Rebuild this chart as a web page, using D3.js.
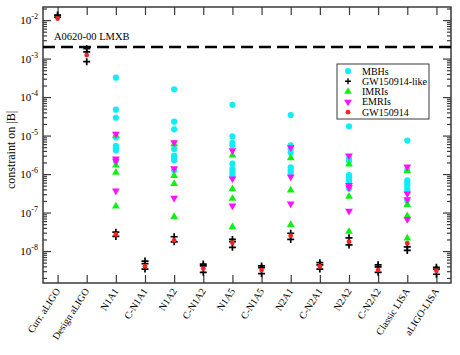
<!DOCTYPE html>
<html>
<head>
<meta charset="utf-8">
<script src="https://cdn.jsdelivr.net/npm/d3@7"></script>
<style>
  body { margin: 0; background: #fff; }
  svg { font-family: "Liberation Serif", "DejaVu Serif", serif; }
</style>
</head>
<body>
<svg width="460" height="355"></svg>
<script>
const categories = ['Curr. aLIGO', 'Design aLIGO', 'N1A1', 'C-N1A1', 'N1A2', 'C-N1A2', 'N1A5',
    'C-N1A5', 'N2A1', 'C-N2A1', 'N2A2', 'C-N2A2', 'Classic LISA', 'aLIGO-LISA'];

// constraint values per detector, per source class
const mbhs = {
    'N1A1': [3.2e-4, 4.7e-5, 2.9e-5, 8.9e-6, 5.4e-6, 4.7e-6, 4.1e-6, 2.2e-6],
    'N1A2': [1.6e-4, 2.3e-5, 1.45e-5, 4.5e-6, 3.0e-6, 2.6e-6, 2.3e-6, 1.26e-6],
    'N1A5': [6.3e-5, 9.5e-6, 6.5e-6, 5.6e-6, 1.86e-6, 1.36e-6, 1.15e-6, 9.8e-7, 8.5e-7],
    'N2A1': [3.4e-5, 5.6e-6, 4.4e-6, 3.6e-6, 1.5e-6, 1.26e-6, 1.1e-6],
    'N2A2': [1.74e-5, 2.6e-6, 2.2e-6, 9.4e-7, 8.1e-7, 6.9e-7, 5.9e-7, 4.2e-7],
    'Classic LISA': [7.4e-6, 1.26e-6, 6.9e-7, 5.9e-7, 5.1e-7, 4.4e-7, 3.8e-7, 2.1e-7]
};
const imris = {
    'N1A1': [1.0e-5, 1.7e-6, 1.1e-6, 1.45e-7],
    'N1A2': [6.0e-6, 9.1e-7, 5.6e-7, 7.8e-8],
    'N1A5': [3.1e-6, 4.1e-7, 2.3e-7, 4.2e-8],
    'N2A1': [2.6e-6, 3.8e-7, 4.8e-8],
    'N2A2': [1.8e-6, 2.6e-7, 3.2e-8],
    'Classic LISA': [1.2e-6, 1.6e-7, 8.1e-8, 2.15e-8]
};
const emris = {
    'N1A1': [1.1e-5, 2.5e-6, 2.2e-6, 3.7e-7],
    'N1A2': [6.6e-6, 1.4e-6, 2.4e-7],
    'N1A5': [4.1e-6, 7.6e-7, 1.5e-7],
    'N2A1': [4.9e-6, 8.5e-7, 1.7e-7],
    'N2A2': [3.0e-6, 5.1e-7, 4.5e-7, 1.1e-7],
    'Classic LISA': [1.55e-6, 3.1e-7, 2.2e-7, 6.7e-8]
};
const gwLike = {
    'Curr. aLIGO': [1.35e-2, 1.2e-2],
    'Design aLIGO': [1.8e-3, 1.5e-3, 8.3e-4],
    'N1A1': [3.1e-8, 2.4e-8],
    'C-N1A1': [5.5e-9, 4.7e-9, 3.4e-9],
    'N1A2': [2.35e-8, 1.74e-8],
    'C-N1A2': [4.6e-9, 4.1e-9, 2.8e-9],
    'N1A5': [2.0e-8, 1.75e-8, 1.25e-8],
    'C-N1A5': [4.1e-9, 3.7e-9, 2.6e-9],
    'N2A1': [2.9e-8, 2.0e-8],
    'C-N2A1': [5.0e-9, 4.4e-9, 3.4e-9],
    'N2A2': [2.2e-8, 1.44e-8],
    'C-N2A2': [4.4e-9, 3.9e-9, 2.8e-9],
    'Classic LISA': [1.29e-8, 1.04e-8],
    'aLIGO-LISA': [3.8e-9, 3.4e-9, 2.5e-9]
};
const gw150914 = {
    'Curr. aLIGO': [1.1e-2], 'Design aLIGO': [1.23e-3], 'N1A1': [2.7e-8], 'C-N1A1': [4.0e-9],
    'N1A2': [1.9e-8], 'C-N1A2': [3.5e-9], 'N1A5': [1.65e-8], 'C-N1A5': [3.2e-9],
    'N2A1': [2.5e-8], 'C-N2A1': [4.0e-9], 'N2A2': [1.75e-8], 'C-N2A2': [3.2e-9],
    'Classic LISA': [1.6e-8], 'aLIGO-LISA': [3.1e-9]
};
const lmxbLimit = 2e-3;
const majorTicks = [1e-8, 1e-7, 1e-6, 1e-5, 1e-4, 1e-3, 1e-2];

const svg = d3.select('svg');
const mLeft = 43, mRight = 451, mTop = 7, mBottom = 283;

const x = d3.scalePoint().domain(categories).range([mLeft, mRight]).padding(0.5);
const y = d3.scaleLog().domain([Math.pow(10, -8.83), Math.pow(10, -1.66)]).range([mBottom, mTop]);

// minor ticks 2..9 in every decade inside the domain
const minorTicks = [];
for (let e = -9; e <= -2; e++) {
    for (let m = 2; m <= 9; m++) {
        const v = m * Math.pow(10, e);
        if (v >= y.domain()[0] && v <= y.domain()[1]) minorTicks.push(v);
    }
}

const axisColor = '#3a3a3a';
const cyan = '#12ecf4', green = '#10f010', magenta = '#ff10ff', red = '#ff2020';

function drawAxis(gen, tx, ty) {
    const g = svg.append('g').attr('transform', `translate(${tx},${ty})`).call(gen);
    g.select('.domain').remove();
    g.selectAll('line').attr('stroke', axisColor).attr('stroke-width', 1.2);
    g.selectAll('text').remove();
}

// left & right (inward ticks)
drawAxis(d3.axisRight(y).tickValues(majorTicks).tickSize(8), mLeft, 0);
drawAxis(d3.axisRight(y).tickValues(minorTicks).tickSize(4), mLeft, 0);
drawAxis(d3.axisLeft(y).tickValues(majorTicks).tickSize(8), mRight, 0);
drawAxis(d3.axisLeft(y).tickValues(minorTicks).tickSize(4), mRight, 0);
// bottom & top (inward ticks)
drawAxis(d3.axisTop(x).tickSize(8), 0, mBottom);
drawAxis(d3.axisBottom(x).tickSize(8), 0, mTop);

svg.append('rect')
    .attr('x', mLeft).attr('y', mTop)
    .attr('width', mRight - mLeft).attr('height', mBottom - mTop)
    .attr('fill', 'none').attr('stroke', axisColor).attr('stroke-width', 1.5);

// y tick labels 10^n
const yl = svg.append('g').selectAll('text').data(majorTicks).join('text')
    .attr('x', 38).attr('y', d => y(d) + 4)
    .attr('text-anchor', 'end').attr('font-size', 11);
yl.append('tspan').text('10');
yl.append('tspan').attr('dy', -5).attr('font-size', 8).text(d => Math.round(Math.log10(d)));

svg.append('text')
    .attr('transform', `translate(15,${(mTop + mBottom) / 2 + 5}) rotate(-90)`)
    .attr('text-anchor', 'middle').attr('font-size', 12)
    .text('constraint on |B|');

// x labels
svg.append('g').selectAll('text').data(categories).join('text')
    .attr('transform', d => `translate(${x(d) + 3},${mBottom + 8}) rotate(-57)`)
    .attr('text-anchor', 'end').attr('font-size', 10)
    .text(d => d);

// LMXB line
svg.append('line')
    .attr('x1', mLeft).attr('x2', mRight)
    .attr('y1', y(lmxbLimit)).attr('y2', y(lmxbLimit))
    .attr('stroke', '#000').attr('stroke-width', 2.5).attr('stroke-dasharray', '12,6');
svg.append('text').attr('x', 54).attr('y', y(lmxbLimit) - 7)
    .attr('font-size', 10.5).text('A0620-00 LMXB');

function flatten(obj) {
    return Object.entries(obj).flatMap(([k, vals]) => vals.map(v => ({ cat: k, v })));
}

const sym = {
    circle: d3.symbol().type(d3.symbolCircle).size(30),
    tri: d3.symbol().type(d3.symbolTriangle).size(26),
    small: d3.symbol().type(d3.symbolCircle).size(18)
};

function drawPoints(data, path, fill, rot) {
    svg.append('g').selectAll('path').data(flatten(data)).join('path')
        .attr('d', path)
        .attr('transform', d => `translate(${x(d.cat)},${y(d.v)})${rot ? ' rotate(180)' : ''}`)
        .attr('fill', fill);
}

function drawPlus(data, g) {
    g.selectAll('path').data(flatten(data)).join('path')
        .attr('d', 'M-3.5,0H3.5M0,-3.5V3.5')
        .attr('transform', d => `translate(${x(d.cat)},${y(d.v)})`)
        .attr('stroke', '#000').attr('stroke-width', 1.7);
}

drawPoints(mbhs, sym.circle(), cyan, false);
drawPoints(imris, sym.tri(), green, false);
drawPoints(emris, sym.tri(), magenta, true);
drawPlus(gwLike, svg.append('g'));
drawPoints(gw150914, sym.small(), red, false);

// legend
const legend = svg.append('g');
legend.append('rect').attr('x', 337).attr('y', 64).attr('width', 92).attr('height', 55)
    .attr('fill', '#fff').attr('stroke', axisColor).attr('stroke-width', 1);
const items = [
    { name: 'MBHs', kind: 'circle', color: cyan },
    { name: 'GW150914-like', kind: 'plus', color: '#000' },
    { name: 'IMRIs', kind: 'tri', color: green },
    { name: 'EMRIs', kind: 'tridown', color: magenta },
    { name: 'GW150914', kind: 'small', color: red }
];
const li = legend.selectAll('g').data(items).join('g')
    .attr('transform', (d, i) => `translate(348,${71 + i * 10.3})`);
li.each(function(d) {
    const g = d3.select(this);
    if (d.kind === 'plus') {
        g.append('path').attr('d', 'M-3,0H3M0,-3V3').attr('stroke', d.color).attr('stroke-width', 1.4);
    } else {
        const p = d.kind === 'circle' ? sym.circle() : d.kind === 'small' ? sym.small() : sym.tri();
        g.append('path').attr('d', p).attr('fill', d.color)
            .attr('transform', d.kind === 'tridown' ? 'rotate(180)' : null);
    }
});
li.append('text').attr('x', 14).attr('y', 3.5).attr('font-size', 10).text(d => d.name);
</script>
</body>
</html>
